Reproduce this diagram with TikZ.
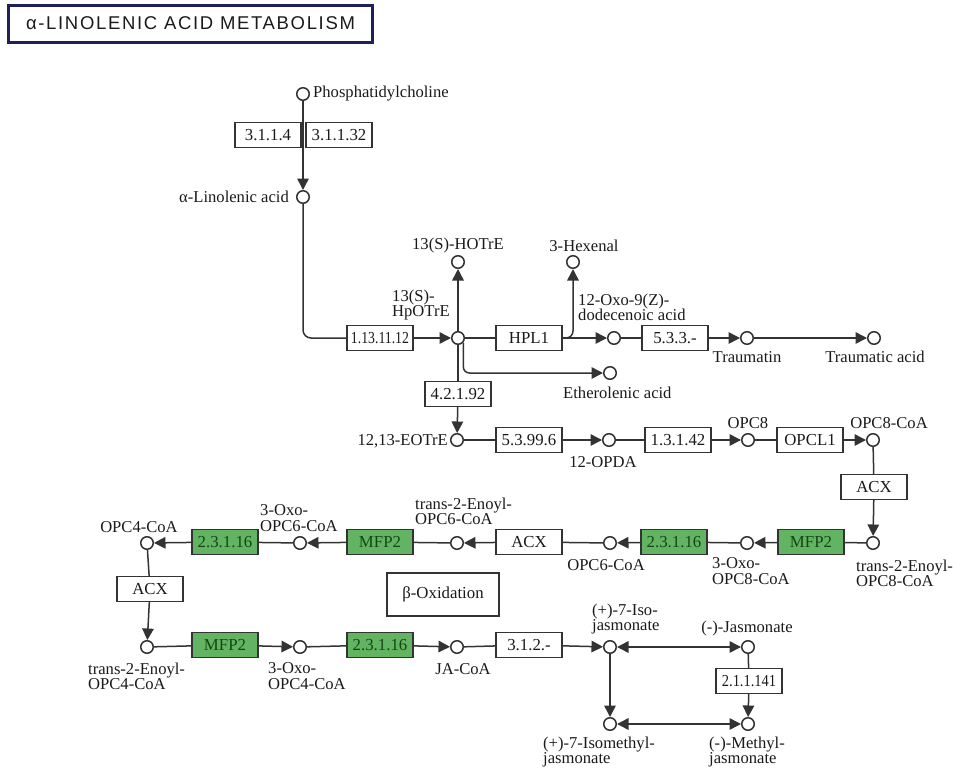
\documentclass[tikz,border=0pt]{standalone}
\usepackage{fontspec}
\setmainfont{Liberation Serif}
\newfontfamily\titlefont[LetterSpace=9]{Liberation Sans}
\usetikzlibrary{arrows.meta}

\definecolor{ink}{HTML}{333333}
\definecolor{txt}{HTML}{1A1A1A}
\definecolor{ecgreen}{RGB}{98,180,98}
\definecolor{ectext}{RGB}{20,70,20}
\definecolor{navy}{HTML}{1F1F5C}

\tikzset{
  cpd/.style={circle, draw=ink, line width=1.5pt, fill=white, minimum size=12.5pt, inner sep=0pt},
  ec/.style={rectangle, draw=ink, line width=1.3pt, fill=white, minimum width=66pt,
    minimum height=25pt, inner sep=0pt, text=txt, font=\fontsize{16.8}{16.8}\selectfont},
  gec/.style={ec, fill=ecgreen, text=ectext},
  lbl/.style={inner sep=0pt, text=txt, font=\fontsize{16.6}{15.2}\selectfont},
  rxn/.style={draw=ink, line width=1.5pt},
  fwd/.style={rxn, -{Triangle[length=11.5pt,width=11.5pt]}},
  twoway/.style={rxn, {Triangle[length=11.5pt,width=11.5pt]}-{Triangle[length=11.5pt,width=11.5pt]}},
}

\begin{document}
\begin{tikzpicture}[x=1pt,y=-1pt]
\useasboundingbox (0,0) rectangle (956,771);

% pathway title
\node[draw=navy, line width=3pt, minimum width=364pt, minimum height=37pt, inner sep=0pt,
  text=txt, font=\titlefont\fontsize{18.5}{18.5}\selectfont] (title) at (190.5,23.5) {α-LINOLENIC ACID METABOLISM};

% ---- compounds ----
\node[cpd] (pc) at (303,94) {};
\node[cpd] (ala) at (303,197) {};
\node[cpd] (hpotre) at (458,338) {};
\node[cpd] (hotre) at (458,262) {};
\node[cpd] (hex) at (573,262) {};
\node[cpd] (oxo12) at (614,338) {};
\node[cpd] (ether) at (610,373) {};
\node[cpd] (traumatin) at (747,338) {};
\node[cpd] (traumatic) at (874,338) {};
\node[cpd] (eotre) at (457,440) {};
\node[cpd] (opda) at (609,440) {};
\node[cpd] (opc8) at (748,440) {};
\node[cpd] (opc8coa) at (873,440) {};
\node[cpd] (t2opc8) at (873,543) {};
\node[cpd] (oxo8) at (747,543) {};
\node[cpd] (opc6) at (610,543) {};
\node[cpd] (t2opc6) at (457,543) {};
\node[cpd] (oxo6) at (300,543) {};
\node[cpd] (opc4) at (147,543) {};
\node[cpd] (t2opc4) at (147,647) {};
\node[cpd] (oxo4) at (300,647) {};
\node[cpd] (jacoa) at (457,647) {};
\node[cpd] (isoja) at (610,647) {};
\node[cpd] (ja) at (748,647) {};
\node[cpd] (isomeja) at (610,724) {};
\node[cpd] (meja) at (748,724) {};

% ---- enzymes ----
\node[ec] (e3114) at (268,135) {3.1.1.4};
\node[ec] (e31132) at (339,135) {3.1.1.32};
\node[ec] (e11311) at (380,338) {\scalebox{0.82}[1]{1.13.11.12}};
\node[ec] (hpl1) at (529,338) {HPL1};
\node[ec] (e533) at (675,338) {5.3.3.-};
\node[ec] (e42192) at (458,394) {4.2.1.92};
\node[ec] (e53996) at (529,440) {5.3.99.6};
\node[ec] (e13142) at (678,440) {1.3.1.42};
\node[ec] (opcl1) at (810,440) {OPCL1};
\node[ec] (acx1) at (874,487) {ACX};
\node[gec] (mfp2a) at (811,542) {MFP2};
\node[gec] (g2316a) at (674,542) {2.3.1.16};
\node[ec] (acx2) at (529,542) {ACX};
\node[gec] (mfp2b) at (380,542) {MFP2};
\node[gec] (g2316b) at (225,542) {2.3.1.16};
\node[ec] (acx3) at (150,589) {ACX};
\node[gec] (mfp2c) at (225,645) {MFP2};
\node[gec] (g2316c) at (380,645) {2.3.1.16};
\node[ec] (e312) at (529,645) {3.1.2.-};
\node[ec] (e211141) at (749,681) {\scalebox{0.86}[1]{2.1.1.141}};

% map link box
\node[ec, minimum width=112pt, minimum height=43pt] (beta) at (443,594.5) {β-Oxidation};

% ---- compound labels ----
\node[lbl, anchor=west] (pcl) at (313,94) {Phosphatidylcholine};
\node[lbl, anchor=east] (alal) at (289,197) {α-Linolenic acid};
\node[lbl] (hotrel) at (458,246) {13(S)-HOTrE};
\node[lbl, anchor=west, align=left] (hpotrel) at (392,305) {13(S)-\\HpOTrE};
\node[lbl] (hexl) at (584,246) {3-Hexenal};
\node[lbl, anchor=west, align=left] (oxo12l) at (578,307) {12-Oxo-9(Z)-\\dodecenoic acid};
\node[lbl] (traumatinl) at (747,357) {Traumatin};
\node[lbl] (traumaticl) at (875,357) {Traumatic acid};
\node[lbl, anchor=west] (etherl) at (563,393) {Etherolenic acid};
\node[lbl, anchor=east] (eotrel) at (448,441) {12,13-EOTrE};
\node[lbl] (opdal) at (603,462) {12-OPDA};
\node[lbl] (opc8l) at (748,423) {OPC8};
\node[lbl] (opc8coal) at (889,423) {OPC8-CoA};
\node[lbl, anchor=west, align=left] (t2opc8l) at (856,573) {trans-2-Enoyl-\\OPC8-CoA};
\node[lbl, anchor=west, align=left] (oxo8l) at (712,571) {3-Oxo-\\OPC8-CoA};
\node[lbl] (opc6l) at (606,565) {OPC6-CoA};
\node[lbl, anchor=west, align=left] (t2opc6l) at (415,511) {trans-2-Enoyl-\\OPC6-CoA};
\node[lbl, anchor=west, align=left] (oxo6l) at (260,518) {3-Oxo-\\OPC6-CoA};
\node[lbl] (opc4l) at (139,527) {OPC4-CoA};
\node[lbl, anchor=west, align=left] (t2opc4l) at (88,676) {trans-2-Enoyl-\\OPC4-CoA};
\node[lbl, anchor=west, align=left] (oxo4l) at (268,676) {3-Oxo-\\OPC4-CoA};
\node[lbl] (jacoal) at (463,669) {JA-CoA};
\node[lbl, anchor=west, align=left] (isojal) at (592,619) {(+)-7-Iso-\\jasmonate};
\node[lbl] (jal) at (747,629) {(-)-Jasmonate};
\node[lbl, anchor=west, align=left] (isomejal) at (543,752) {(+)-7-Isomethyl-\\jasmonate};
\node[lbl, anchor=west, align=left] (mejal) at (709,752) {(-)-Methyl-\\jasmonate};

% ---- reactions ----
\draw[fwd] (pc) -- (ala);
\draw[rxn, rounded corners=8pt] (ala) |- (e11311);
\draw[fwd] (e11311) -- (hpotre);
\draw[fwd] (hpotre) -- (hotre);
\draw[rxn] (hpotre) -- (hpl1);
\draw[fwd] (hpl1) -- (oxo12);
\draw[fwd, rounded corners=7pt] (hpl1) -| (hex);
\draw[rxn] (oxo12) -- (e533);
\draw[fwd] (e533) -- (traumatin);
\draw[fwd] (traumatin) -- (traumatic);
\draw[fwd, rounded corners=6pt] (hpotre.-40) |- (ether);
\draw[rxn] (hpotre) -- (e42192);
\draw[fwd] (e42192) -- (eotre);

\draw[rxn] (eotre) -- (e53996);
\draw[fwd] (e53996) -- (opda);
\draw[rxn] (opda) -- (e13142);
\draw[fwd] (e13142) -- (opc8);
\draw[rxn] (opc8) -- (opcl1);
\draw[fwd] (opcl1) -- (opc8coa);
\draw[rxn] (opc8coa) -- (acx1);
\draw[fwd] (acx1) -- (t2opc8);

\draw[rxn] (t2opc8) -- (mfp2a);
\draw[fwd] (mfp2a) -- (oxo8);
\draw[rxn] (oxo8) -- (g2316a);
\draw[fwd] (g2316a) -- (opc6);
\draw[rxn] (opc6) -- (acx2);
\draw[fwd] (acx2) -- (t2opc6);
\draw[rxn] (t2opc6) -- (mfp2b);
\draw[fwd] (mfp2b) -- (oxo6);
\draw[rxn] (oxo6) -- (g2316b);
\draw[fwd] (g2316b) -- (opc4);
\draw[rxn] (opc4) -- (acx3);
\draw[fwd] (acx3) -- (t2opc4);

\draw[rxn] (t2opc4) -- (mfp2c);
\draw[fwd] (mfp2c) -- (oxo4);
\draw[rxn] (oxo4) -- (g2316c);
\draw[fwd] (g2316c) -- (jacoa);
\draw[rxn] (jacoa) -- (e312);
\draw[fwd] (e312) -- (isoja);
\draw[twoway] (isoja) -- (ja);
\draw[fwd] (isoja) -- (isomeja);
\draw[rxn] (ja) -- (e211141);
\draw[fwd] (e211141) -- (meja);
\draw[twoway] (isomeja) -- (meja);
\end{tikzpicture}
\end{document}
